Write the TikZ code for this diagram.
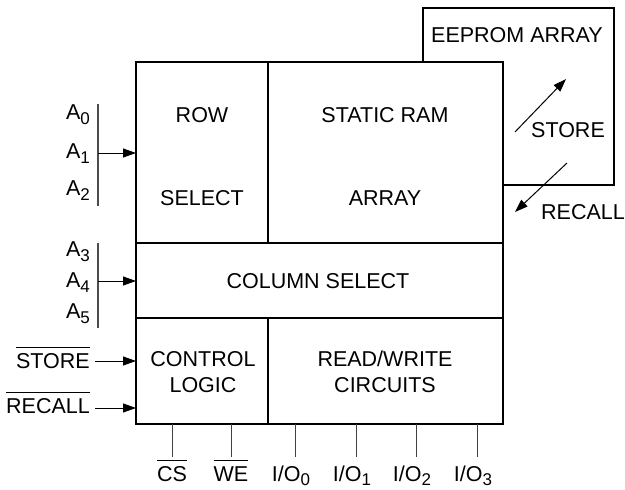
\documentclass[tikz,border=0pt]{standalone}
\usepackage{fontspec}
\setmainfont{Liberation Sans}
\usetikzlibrary{arrows.meta}
\newcommand{\lsub}[1]{\raisebox{-5pt}{\fontsize{17}{18}\selectfont #1}}
\newcommand{\bsub}[1]{\raisebox{-4pt}{\fontsize{17}{18}\selectfont #1}}
\newcommand{\ovl}[1]{\vbox{\hrule height 1.2pt\kern 5pt\hbox{#1}}}
\begin{document}
\begin{tikzpicture}[x=1pt,y=-1pt,
  txt/.style={font=\fontsize{21.5}{23}\selectfont, inner sep=0pt},
  boxline/.style={line width=2.3pt},
  pinline/.style={line width=1pt, black!75},
  barline/.style={line width=1.2pt, black!70},
  sig/.style={line width=1pt, -{Triangle[length=13pt,width=9pt]}},
]
\useasboundingbox (0,0) rectangle (625,490);
% EEPROM box (behind)
\draw[boxline, fill=white] (423,8) rectangle (614,185);
% main box
\coordinate (tl) at (136,62);
\coordinate (br) at (503,424);
\draw[boxline, fill=white] (tl) rectangle (br);
\coordinate (d1t) at (268,62);
\coordinate (d1b) at (268,243);
\coordinate (h1l) at (136,243);
\coordinate (h1r) at (503,243);
\coordinate (h2l) at (136,318);
\coordinate (h2r) at (503,318);
\coordinate (d2t) at (268,318);
\coordinate (d2b) at (268,424);
\draw[boxline] (d1t) -- (d1b);
\draw[boxline] (h1l) -- (h1r);
\draw[boxline] (h2l) -- (h2r);
\draw[boxline] (d2t) -- (d2b);

% block texts
\node[txt] (row) at (202,115) {ROW};
\node[txt] (rowsel) at (202,198) {SELECT};
\node[txt] (sram) at (385,115) {STATIC RAM};
\node[txt] (sarr) at (385,198) {ARRAY};
\node[txt] (col) at (318,281) {COLUMN SELECT};
\node[txt] (ctl1) at (203,359) {CONTROL};
\node[txt] (ctl2) at (203,385) {LOGIC};
\node[txt] (rw1) at (385,359) {READ/WRITE};
\node[txt] (rw2) at (385,385) {CIRCUITS};
\node[txt] (eep) at (517,35) {EEPROM ARRAY};
\node[txt] (store) at (568,130) {STORE};
\node[txt] (recall) at (583,212) {RECALL};

% store / recall arrows
\coordinate (s1) at (515,132);
\coordinate (s2) at (566,79);
\coordinate (r1) at (567,163);
\coordinate (r2) at (515,212);
\draw[sig] (s1) -- (s2);
\draw[sig] (r1) -- (r2);

% address A0-A2
\node[txt, anchor=base east] (a0) at (90,119) {A\lsub{0}};
\node[txt, anchor=base east] (a1) at (90,158) {A\lsub{1}};
\node[txt, anchor=base east] (a2) at (90,195) {A\lsub{2}};
\coordinate (b1t) at (98,104);
\coordinate (b1b) at (98,206);
\draw[barline] (b1t) -- (b1b);
\coordinate (b1m) at (98,153);
\draw[sig] (b1m) -- (b1m -| tl);

% address A3-A5
\node[txt, anchor=base east] (a3) at (90,256) {A\lsub{3}};
\node[txt, anchor=base east] (a4) at (90,287) {A\lsub{4}};
\node[txt, anchor=base east] (a5) at (90,318) {A\lsub{5}};
\coordinate (b2t) at (98,243);
\coordinate (b2b) at (98,328);
\draw[barline] (b2t) -- (b2b);
\coordinate (b2m) at (98,281);
\draw[sig] (b2m) -- (b2m -| tl);

% STORE / RECALL inputs
\node[txt, anchor=base east] (nst) at (90,368) {\ovl{STORE}};
\node[txt, anchor=base east] (nrc) at (90,413) {\ovl{RECALL}};
\coordinate (st0) at (95,361);
\coordinate (rc0) at (95,408);
\draw[sig] (st0) -- (st0 -| tl);
\draw[sig] (rc0) -- (rc0 -| tl);

% bottom pins
\foreach \n/\x in {cs/172, we/231, io0/295, io1/356, io2/416, io3/477}{
  \coordinate (\n t) at (\x,424);
  \coordinate (\n b) at (\x,457);
  \draw[pinline] (\n t) -- (\n b);
}
\node[txt, anchor=base] (lcs) at (172,481) {\ovl{CS}};
\node[txt, anchor=base] (lwe) at (231,481) {\ovl{WE}};
\node[txt, anchor=base] (lio0) at (291,481) {I/O\bsub{0}};
\node[txt, anchor=base] (lio1) at (352,481) {I/O\bsub{1}};
\node[txt, anchor=base] (lio2) at (412,481) {I/O\bsub{2}};
\node[txt, anchor=base] (lio3) at (473,481) {I/O\bsub{3}};
\end{tikzpicture}
\end{document}
